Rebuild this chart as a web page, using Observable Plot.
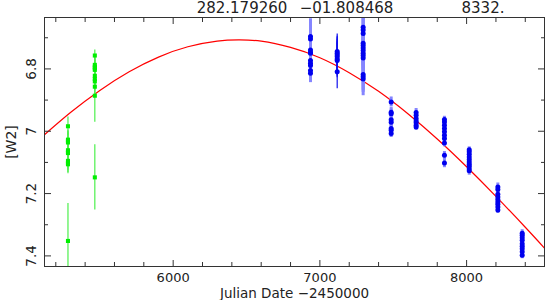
<!DOCTYPE html>
<html>
<head>
<meta charset="utf-8">
<script src="https://cdn.jsdelivr.net/npm/d3@7"></script>
<script src="https://cdn.jsdelivr.net/npm/@observablehq/plot@0.6"></script>
<style>
  html, body { margin: 0; padding: 0; background: #fff; }
  svg { display: block; }
</style>
</head>
<body>
<div id="chart"></div>
<script>
// ---- data ----
const headerTexts = ["282.179260", "\u221201.808468", "8332."];
const xMajorTicks = [6000, 7000, 8000];
const xMinorTicks = [5200, 5400, 5600, 5800, 6200, 6400, 6600, 6800, 7200, 7400, 7600, 7800, 8200, 8400];
const yMajorTicks = [6.8, 7, 7.2, 7.4];
const yMinorTicks = [6.7, 6.9, 7.1, 7.3];

// green epochs (earlier survey)
const greenEpochs = [5283, 5466];
const greenMags = [
  [6.984, 7.027, 7.031, 7.036, 7.061, 7.066, 7.070, 7.095, 7.102, 7.106, 7.352],
  [6.757, 6.787, 6.793, 6.798, 6.803, 6.822, 6.832, 6.840, 6.857, 6.886, 7.148]
];
const greenErrs = [
  [0.03, 0.03, 0.03, 0.03, 0.03, 0.03, 0.03, 0.03, 0.03, 0.03, 0.12],
  [0.018, 0.03, 0.03, 0.03, 0.03, 0.03, 0.03, 0.03, 0.03, 0.085, 0.105]
];

// blue epochs with wide light error bars
const blueEpochs = [6936, 7295, 7486, 7656, 7849, 8018, 8213, 8379];
const blueMags = [
  [6.696, 6.704, 6.739, 6.747, 6.750, 6.773, 6.782, 6.789, 6.805, 6.814],
  [6.666, 6.675, 6.686, 6.718, 6.725, 6.733, 6.741, 6.750, 6.757, 6.765, 6.818, 6.825, 6.832],
  [6.906, 6.939, 6.944, 6.963, 6.971, 6.991, 6.997, 7.007],
  [6.940, 6.949, 6.959, 6.967, 6.973, 6.981, 6.986],
  [6.962, 6.970, 6.981, 6.991, 7.002, 7.013, 7.023, 7.038, 7.077, 7.102],
  [7.059, 7.066, 7.074, 7.083, 7.091, 7.099, 7.106, 7.112, 7.120, 7.127],
  [7.179, 7.187, 7.202, 7.211, 7.219, 7.227, 7.234, 7.243, 7.253],
  [7.327, 7.334, 7.342, 7.350, 7.361, 7.369, 7.377, 7.387, 7.398]
];
const blueErrs = [
  [0.057, 0.05, 0.03, 0.03, 0.03, 0.03, 0.03, 0.03, 0.03, 0.03],
  [0.05, 0.05, 0.05, 0.05, 0.05, 0.05, 0.05, 0.05, 0.05, 0.05, 0.05, 0.05, 0.054],
  [0.016, 0.015, 0.015, 0.015, 0.015, 0.015, 0.015, 0.013],
  [0.013, 0.012, 0.012, 0.012, 0.012, 0.012, 0.011],
  [0.01, 0.012, 0.012, 0.012, 0.012, 0.012, 0.012, 0.012, 0.012, 0.015],
  [0.009, 0.012, 0.012, 0.012, 0.012, 0.012, 0.012, 0.012, 0.012, 0.014],
  [0.013, 0.012, 0.012, 0.012, 0.012, 0.012, 0.012, 0.012, 0.011],
  [0.011, 0.011, 0.011, 0.011, 0.011, 0.011, 0.011, 0.011, 0.011]
];

// blue epoch with thin dark error bars
const thinEpoch = 7118;
const thinMags = [6.744, 6.750, 6.755, 6.761, 6.768, 6.773, 6.809];
const thinErrs = [0.056, 0.055, 0.055, 0.055, 0.055, 0.055, 0.055];

// fitted model curve
const curveJD  = [5116, 5300, 5500, 5700, 5900, 6100, 6300, 6445, 6600, 6800, 7000, 7200, 7400, 7600, 7800, 8000, 8200, 8400, 8531];
const curveMag = [7.014, 6.940, 6.869, 6.809, 6.762, 6.729, 6.711, 6.707, 6.711, 6.731, 6.764, 6.812, 6.872, 6.944, 7.025, 7.114, 7.209, 7.308, 7.375];

// ---- build tables ----
const explode = (epochs, mags, errs) =>
  epochs.flatMap((jd, i) => mags[i].map((m, j) => ({jd, mag: m, err: errs[i][j]})));
const green = explode(greenEpochs, greenMags, greenErrs);
const blue = explode(blueEpochs, blueMags, blueErrs);
const thin = thinMags.map((m, j) => ({jd: thinEpoch, mag: m, err: thinErrs[j]}));
const curve = curveJD.map((jd, i) => ({jd, mag: curveMag[i]}));

const font = "DejaVu Sans, sans-serif";
const axisColor = "#333";

const chart = Plot.plot({
  width: 546,
  height: 300,
  marginLeft: 44,
  marginRight: 2,
  marginTop: 17,
  marginBottom: 34,
  style: {fontFamily: font, background: "#fff"},
  x: {domain: [5123, 8531], axis: null},
  y: {domain: [6.635, 7.434], reverse: true, axis: null},
  marks: [
    // model curve
    Plot.line(curve, {x: "jd", y: "mag", stroke: "#ff0000", strokeWidth: 1.2, curve: "natural", clip: true}),
    // green error bars and points
    Plot.ruleX(green, {x: "jd", y1: d => d.mag - d.err, y2: d => d.mag + d.err, stroke: "#4cf04c", strokeWidth: 1.2, clip: true}),
    Plot.dot(green, {x: "jd", y: "mag", r: 2.3, fill: "#00ee00", stroke: "none", symbol: "square"}),
    // blue wide light error bars and points
    Plot.ruleX(blue, {x: "jd", y1: d => d.mag - d.err, y2: d => d.mag + d.err, stroke: "#8585ff", strokeWidth: 3, clip: true}),
    Plot.ruleX(thin, {x: "jd", y1: d => d.mag - d.err, y2: d => d.mag + d.err, stroke: "#1010ee", strokeWidth: 1.2, clip: true}),
    Plot.dot(blue, {x: "jd", y: "mag", r: 2.5, fill: "#0000ee", stroke: "none"}),
    Plot.dot(thin, {x: "jd", y: "mag", r: 2.5, fill: "#0000ee", stroke: "none"}),
    // frame
    Plot.frame({stroke: axisColor, strokeWidth: 1}),
    // inward ticks
    Plot.axisX(xMajorTicks, {anchor: "bottom", tickSize: -6, tickFormat: () => "", label: null, stroke: axisColor}),
    Plot.axisX(xMinorTicks, {anchor: "bottom", tickSize: -4, tickFormat: () => "", label: null, stroke: axisColor}),
    Plot.axisX(xMajorTicks, {anchor: "top", tickSize: -6, tickFormat: () => "", label: null, stroke: axisColor}),
    Plot.axisX(xMinorTicks, {anchor: "top", tickSize: -4, tickFormat: () => "", label: null, stroke: axisColor}),
    Plot.axisY(yMajorTicks, {anchor: "left", tickSize: -7, tickFormat: () => "", label: null, stroke: axisColor}),
    Plot.axisY(yMinorTicks, {anchor: "left", tickSize: -4, tickFormat: () => "", label: null, stroke: axisColor}),
    Plot.axisY(yMajorTicks, {anchor: "right", tickSize: -7, tickFormat: () => "", label: null, stroke: axisColor}),
    Plot.axisY(yMinorTicks, {anchor: "right", tickSize: -4, tickFormat: () => "", label: null, stroke: axisColor}),
    // tick labels
    Plot.text(xMajorTicks, {x: d => d, frameAnchor: "bottom", dy: 11, text: d => String(d), fontSize: 13, fill: "#222", lineAnchor: "middle"}),
    Plot.text(yMajorTicks, {y: d => d, frameAnchor: "left", dx: -9, rotate: -90, textAnchor: "middle", lineAnchor: "bottom", text: d => String(d), fontSize: 13.5, fill: "#222"}),
    // axis titles
    Plot.text(["Julian Date \u22122450000"], {frameAnchor: "bottom", dy: 31, text: d => d, fontSize: 13.5, fill: "#222", lineAnchor: "bottom"}),
    Plot.text(["[W2]"], {frameAnchor: "left", dx: -29, rotate: -90, textAnchor: "middle", lineAnchor: "bottom", text: d => d, fontSize: 14, fill: "#222"}),
    // header
    Plot.text([headerTexts[0]], {frameAnchor: "top-left", dx: 241.5 - 44, dy: -9, text: d => d, fontSize: 15, fill: "#222", lineAnchor: "middle", textAnchor: "middle"}),
    Plot.text([headerTexts[1]], {frameAnchor: "top-left", dx: 346 - 44, dy: -9, text: d => d, fontSize: 15, fill: "#222", lineAnchor: "middle", textAnchor: "middle"}),
    Plot.text([headerTexts[2]], {frameAnchor: "top-left", dx: 482.5 - 44, dy: -9, text: d => d, fontSize: 15, fill: "#222", lineAnchor: "middle", textAnchor: "middle"})
  ]
});
document.getElementById("chart").appendChild(chart);
</script>
</body>
</html>
